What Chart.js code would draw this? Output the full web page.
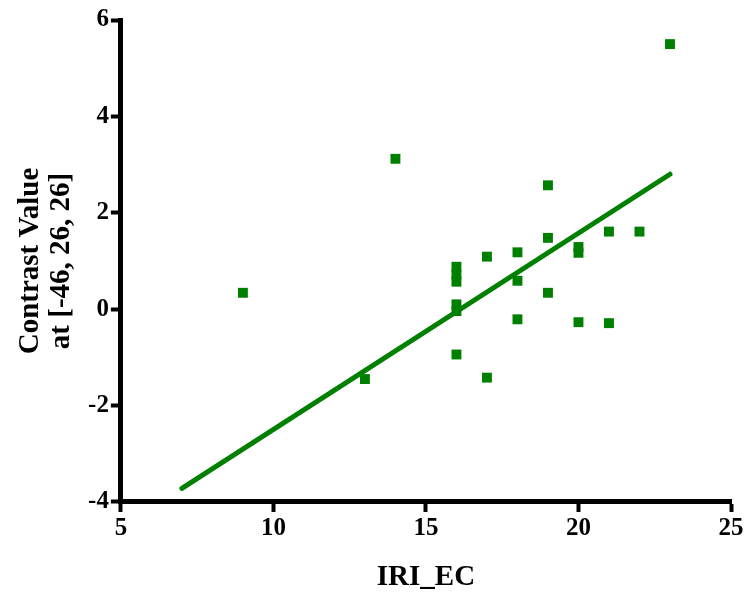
<!DOCTYPE html>
<html>
<head>
<meta charset="utf-8">
<script src="https://cdn.jsdelivr.net/npm/chart.js@4/dist/chart.umd.min.js"></script>
<style>
  body { margin: 0; background: #fff; }
  #wrap { width: 747px; height: 597px; }
</style>
</head>
<body>
<div id="wrap"><canvas id="myChart" width="747" height="597"></canvas></div>
<script>
// data
const iriEC = [9, 13, 14, 16, 16, 16, 16, 16, 16, 17, 17, 18, 18, 18, 19, 19, 19, 20, 20, 20, 21, 21, 22, 23];
const contrast = [0.34, -1.45, 3.12, 0.88, 0.72, 0.57, 0.1, -0.04, -0.94, 1.09, -1.42, 1.18, 0.59, -0.21, 2.57, 1.48, 0.34, 1.29, 1.17, -0.27, 1.61, -0.29, 1.61, 5.5];
// fit line end points
const fitX = [7, 23];
const fitY = [-3.72, 2.8];
const xTicks = [5, 10, 15, 20, 25];
const yTicks = [-4, -2, 0, 2, 4, 6];

const green = "rgb(0, 128, 0)";
const serif = "'Liberation Serif', 'Times New Roman', serif";

const points = iriEC.map(function (x, i) { return { x: x, y: contrast[i] }; });
const fitLine = fitX.map(function (x, i) { return { x: x, y: fitY[i] }; });

const data = {
  datasets: [
    {
      type: "line",
      data: fitLine,
      borderColor: green,
      borderWidth: 5,
      borderCapStyle: "round",
      pointRadius: 0,
      clip: false,
    },
    {
      type: "scatter",
      data: points,
      pointStyle: "rect",
      pointRadius: 7,
      pointBorderWidth: 0,
      backgroundColor: green,
      borderColor: green,
      clip: false,
    },
  ],
};

function axis(min, max, ticks, title) {
  return {
    type: "linear",
    min: min,
    max: max,
    afterBuildTicks: function (scale) {
      scale.ticks = ticks.map(function (v) { return { value: v }; });
    },
    border: { display: true, color: "#000", width: 5 },
    grid: {
      display: true,
      drawOnChartArea: false,
      drawTicks: true,
      tickLength: 10,
      tickWidth: 4,
      tickColor: "#000",
    },
    ticks: {
      color: "#000",
      padding: 2,
      maxRotation: 0,
      font: { family: serif, size: 25, weight: "bold" },
    },
    title: {
      display: true,
      text: title,
      color: "#000",
      font: { family: serif, size: 29, weight: "bold", lineHeight: 1.07 },
    },
  };
}

const xAxis = axis(5, 25, xTicks, "IRI_EC");
xAxis.title.padding = { top: 16, bottom: 0 };
const yAxis = axis(-4, 6, yTicks, ["Contrast Value", "at [-46, 26, 26]"]);
yAxis.title.padding = { top: 0, bottom: 9 };

const config = {
  type: "scatter",
  data: data,
  options: {
    responsive: false,
    animation: false,
    layout: { padding: { top: 20, right: 16, left: 15, bottom: 4 } },
    plugins: { legend: { display: false }, tooltip: { enabled: false } },
    scales: { x: xAxis, y: yAxis },
  },
};

var myChart = new Chart(document.getElementById("myChart"), config);
</script>
</body>
</html>
